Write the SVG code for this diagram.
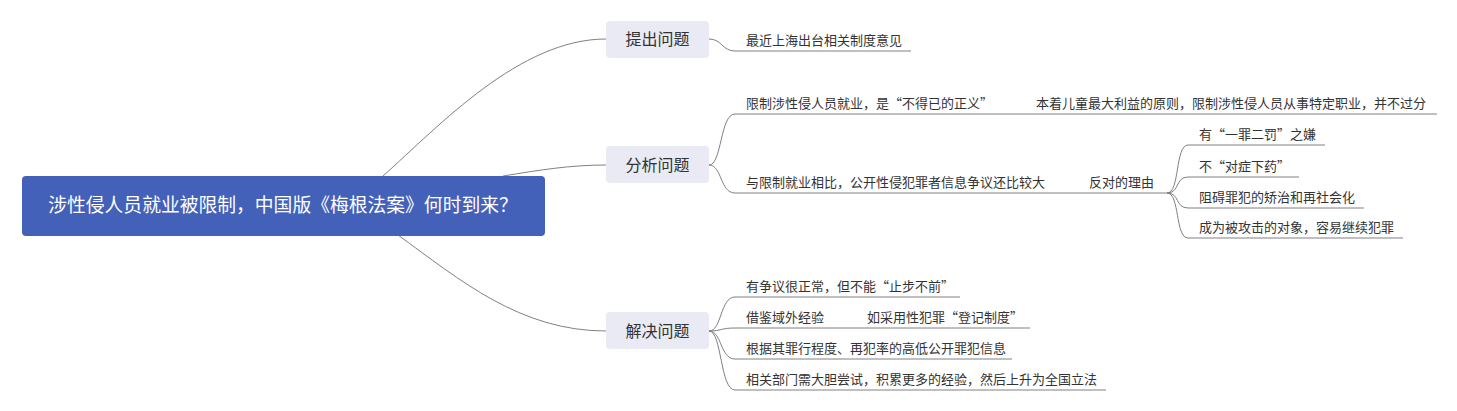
<svg xmlns="http://www.w3.org/2000/svg" width="1457" height="411" viewBox="0 0 1457 411">
<style>
text{font-family:"Noto Sans CJK SC","Microsoft YaHei",sans-serif;}
.root{fill:#4461b9;}
.rt{fill:#ffffff;font-size:18.8px;}
.main{fill:#e9eaf3;}
.mt{fill:#333333;font-size:16px;}
.ct{fill:#333333;font-size:13px;}
.ln{fill:none;stroke:#808080;stroke-width:1;}
</style>
<rect width="1457" height="411" fill="#ffffff"/>
<g id="connectors">
<path class="ln" d="M383,176 C440,125 520,39 606,39"/>
<path class="ln" d="M503,176 C540,170 570,165 606,165"/>
<path class="ln" d="M398,235 C460,280 520,331 606,331"/>
<path class="ln" d="M709,39 C722,39 722,51 735,51 L911,51"/>
<path class="ln" d="M709,165 C722,165 720,114 735,114 L1437,114"/>
<path class="ln" d="M709,165 C722,165 720,193 735,193 L1167,193"/>
<path class="ln" d="M1167,193 C1180,193 1175,145 1188,145 L1325,145"/>
<path class="ln" d="M1167,193 C1180,193 1175,177 1188,177 L1299,177"/>
<path class="ln" d="M1167,193 C1180,193 1175,208 1188,208 L1364,208"/>
<path class="ln" d="M1167,193 C1180,193 1175,238 1188,238 L1403,238"/>
<path class="ln" d="M709,331 C722,331 720,297 735,297 L960,297"/>
<path class="ln" d="M709,331 C722,331 720,328 735,328 L1030,328"/>
<path class="ln" d="M709,331 C722,331 720,359 735,359 L1012,359"/>
<path class="ln" d="M709,331 C722,331 720,390 735,390 L1106,390"/>
</g>
<g id="root">
<rect class="root" x="22" y="176" width="523" height="60" rx="4"/>
<text class="rt" x="283" y="212" text-anchor="middle">涉性侵人员就业被限制，中国版《梅根法案》何时到来？</text>
</g>
<g id="n1">
<rect class="main" x="606" y="21" width="103" height="37" rx="4"/>
<text class="mt" x="657.5" y="45" text-anchor="middle">提出问题</text>
</g>
<g id="n1c1"><text class="ct" x="746" y="45">最近上海出台相关制度意见</text></g>
<g id="n2">
<rect class="main" x="606" y="146" width="103" height="37" rx="4"/>
<text class="mt" x="657.5" y="170.5" text-anchor="middle">分析问题</text>
</g>
<g id="n2c1"><text class="ct" x="746" y="108">限制涉性侵人员就业，是“不得已的正义”</text></g>
<g id="n2c1a"><text class="ct" x="1036" y="108">本着儿童最大利益的原则，限制涉性侵人员从事特定职业，并不过分</text></g>
<g id="n2c2"><text class="ct" x="746" y="187">与限制就业相比，公开性侵犯罪者信息争议还比较大</text></g>
<g id="n2c2a"><text class="ct" x="1089" y="187">反对的理由</text></g>
<g id="r1"><text class="ct" x="1199" y="139">有“一罪二罚”之嫌</text></g>
<g id="r2"><text class="ct" x="1199" y="171">不“对症下药”</text></g>
<g id="r3"><text class="ct" x="1199" y="202">阻碍罪犯的矫治和再社会化</text></g>
<g id="r4"><text class="ct" x="1199" y="232">成为被攻击的对象，容易继续犯罪</text></g>
<g id="n3">
<rect class="main" x="606" y="312" width="103" height="37" rx="4"/>
<text class="mt" x="657.5" y="336.5" text-anchor="middle">解决问题</text>
</g>
<g id="s1"><text class="ct" x="746" y="291">有争议很正常，但不能“止步不前”</text></g>
<g id="s2"><text class="ct" x="746" y="322">借鉴域外经验</text></g>
<g id="s2a"><text class="ct" x="867" y="322">如采用性犯罪“登记制度”</text></g>
<g id="s3"><text class="ct" x="746" y="353">根据其罪行程度、再犯率的高低公开罪犯信息</text></g>
<g id="s4"><text class="ct" x="746" y="384">相关部门需大胆尝试，积累更多的经验，然后上升为全国立法</text></g>
</svg>
